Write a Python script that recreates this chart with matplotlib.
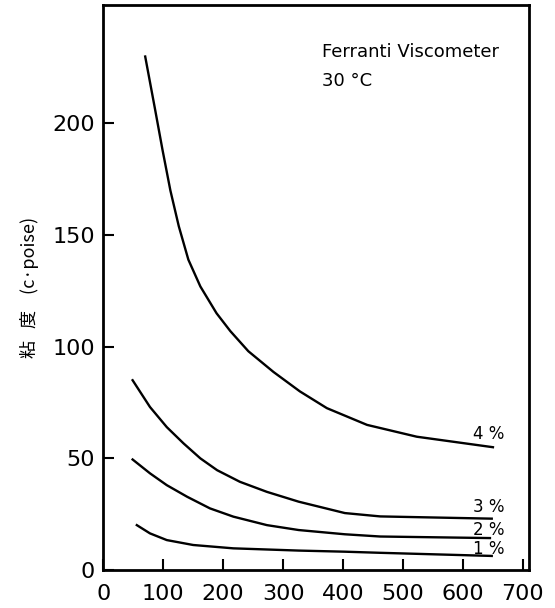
import matplotlib
matplotlib.use("Agg")
import matplotlib.pyplot as plt

# shear rate values, viscosity in c.poise
x_4 = [70, 86, 99, 112, 126, 142, 162, 189, 212, 242, 284, 328, 373, 440, 523, 650]
y_4 = [230, 207, 188, 170, 154, 139, 127, 115, 107, 98, 88.7, 80, 72.5, 65, 59.7, 55]

x_3 = [49, 78, 106, 134, 162, 190, 228, 273, 326, 403, 462, 648]
y_3 = [85, 73, 64, 56.7, 50, 44.7, 39.5, 35, 30.6, 25.5, 24, 23]

x_2 = [49, 78, 106, 140, 178, 217, 273, 326, 403, 462, 645]
y_2 = [49.5, 43.3, 38, 32.8, 27.6, 23.9, 20.1, 17.9, 16, 15, 14.3]

x_1 = [56, 78, 106, 150, 217, 326, 403, 462, 648]
y_1 = [20.1, 16.4, 13.4, 11.2, 9.7, 8.7, 8.2, 7.7, 6.3]

series = [
	("4 %", x_4, y_4, 61),
	("3 %", x_3, y_3, 28),
	("2 %", x_2, y_2, 18),
	("1 %", x_1, y_1, 9.4),
]

x_ticks = [0, 100, 200, 300, 400, 500, 600, 700]
y_ticks = [0, 50, 100, 150, 200]

plt.rcParams["font.family"] = ["DejaVu Sans", "Noto Sans CJK JP"]

fig = plt.figure(figsize=(5.55, 6.08), dpi=100)
ax = fig.add_axes([0.186, 0.0625, 0.767, 0.929])

for label, xs, ys, ly in series:
	ax.plot(xs, ys, color="black", linewidth=1.7, solid_joinstyle="round")
	ax.text(643, ly, label, fontsize=12, ha="center", va="center")

ax.text(365, 232, "Ferranti Viscometer", fontsize=13, ha="left", va="center")
ax.text(365, 219, "30 °C", fontsize=13, ha="left", va="center")

ax.set_xlim(0, 710)
ax.set_ylim(0, 253)
ax.set_xticks(x_ticks)
ax.set_yticks(y_ticks)
ax.tick_params(axis="both", direction="in", length=8, width=1.5, labelsize=16)
ax.tick_params(axis="x", pad=10)
ax.tick_params(axis="y", pad=6)

for spine in ax.spines.values():
	spine.set_linewidth(2)

ax.set_ylabel("粘   度    (c·poise)", fontsize=13,
	family=["Noto Sans CJK JP", "DejaVu Sans"])
ax.yaxis.set_label_coords(-0.15, 0.5)

fig.savefig("out.png", dpi=100)
